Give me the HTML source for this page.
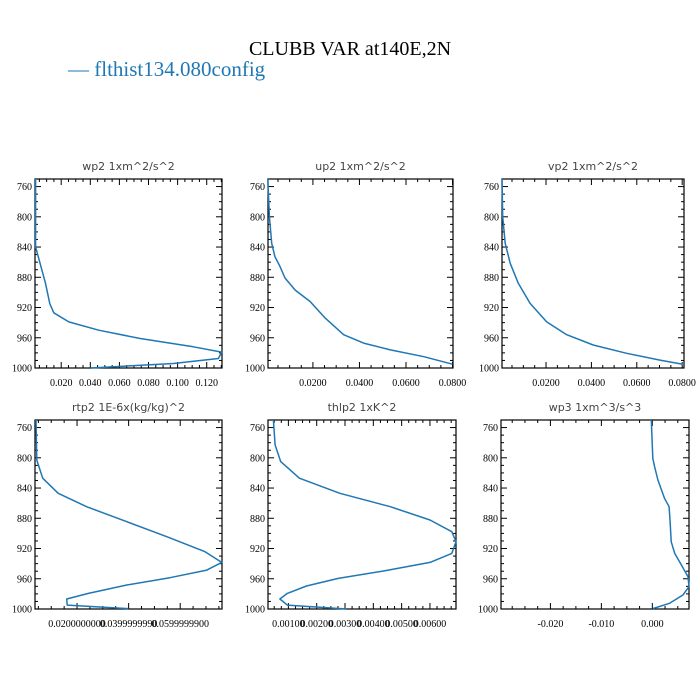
<!DOCTYPE html>
<html><head><meta charset="utf-8"><style>
html,body{margin:0;padding:0;background:#fff;}
svg{display:block;}
.tl{font-family:"Liberation Serif",serif;font-size:10px;fill:#000;}
.pt{font-family:"DejaVu Sans","Liberation Sans",sans-serif;font-size:11px;fill:#444;font-weight:normal;}
</style></head><body>
<svg id="fig" width="700" height="700" viewBox="0 0 700 700">
<rect width="700" height="700" fill="#fff"/>
<text x="350" y="55" text-anchor="middle" font-family="Liberation Serif,serif" font-size="20">CLUBB VAR at140E,2N</text>
<g>
<text x="68" y="76" font-family="Liberation Serif,serif" font-size="21" fill="#1f77b4">— flthist134.080config</text>
</g>
</svg>
<script>
// shared pressure ticks
const yTicks = [760, 800, 840, 880, 920, 960, 1000];
// wp2
const wp2P = [750, 840, 848, 888, 915, 927, 939, 950, 961, 972, 979, 987.5, 994, 1000];
const wp2V = [0.0024, 0.0024, 0.0036, 0.0092, 0.0122, 0.0149, 0.0252, 0.0458, 0.0743, 0.1108, 0.1303, 0.128, 0.0971, 0.0401];
const wp2Ticks = [0.02, 0.04, 0.06, 0.08, 0.10, 0.12];
const wp2Labels = ["0.020", "0.040", "0.060", "0.080", "0.100", "0.120"];
// up2
const up2P = [750, 800, 835, 853, 864, 881, 897, 912, 934, 956, 967, 976, 985, 995];
const up2V = [0.0006, 0.0013, 0.0023, 0.0037, 0.0056, 0.008, 0.0124, 0.0188, 0.0253, 0.0332, 0.0418, 0.0533, 0.0677, 0.08];
const up2Ticks = [0.02, 0.04, 0.06, 0.08];
const up2Labels = ["0.0200", "0.0400", "0.0600", "0.0800"];
// vp2
const vp2P = [750, 800, 835, 861.5, 888, 914.5, 939, 956, 969.6, 980.6, 989.5, 995];
const vp2V = [0.0006, 0.0009, 0.002, 0.0042, 0.0078, 0.013, 0.0203, 0.0291, 0.0408, 0.0555, 0.0702, 0.0802];
const vp2Ticks = [0.02, 0.04, 0.06, 0.08];
const vp2Labels = ["0.0200", "0.0400", "0.0600", "0.0800"];
// rtp2
const rtp2P = [750, 803, 809.5, 827, 847, 864.7, 884.5, 904.4, 924.2, 938.3, 948.5, 958.6, 968.3, 979.3, 986.8, 994.8, 999.5];
const rtp2V = [0.0041, 0.0044, 0.005, 0.0067, 0.0127, 0.0237, 0.0393, 0.0548, 0.0696, 0.0761, 0.0703, 0.056, 0.0393, 0.0244, 0.016, 0.0162, 0.0399];
const rtp2Ticks = [0.02, 0.04, 0.06];
const rtp2Labels = ["0.0200000000", "0.0399999990", "0.0599999900"];
// thlp2
const thlp2P = [750, 783, 805, 827, 847, 864.7, 882.3, 897.8, 911, 926.4, 938.3, 949.8, 959.5, 969.6, 979.3, 986.8, 994.8, 1000];
const thlp2V = [0.00047, 0.00053, 0.00073, 0.00139, 0.00282, 0.0046, 0.006, 0.00677, 0.00692, 0.00677, 0.006, 0.00436, 0.00276, 0.00164, 0.00096, 0.0007, 0.00096, 0.00305];
const thlp2Ticks = [0.001, 0.002, 0.003, 0.004, 0.005, 0.006];
const thlp2Labels = ["0.00100", "0.00200", "0.00300", "0.00400", "0.00500", "0.00600"];
// wp3
const wp3P = [750, 800.7, 811.8, 829.4, 853.6, 864.7, 884.5, 911, 926.4, 941.8, 957.3, 970.5, 981.5, 992.5, 999.5];
const wp3V = [-0.0002, 0.0001, 0.00045, 0.0011, 0.0024, 0.0033, 0.0035, 0.0037, 0.0044, 0.0057, 0.007, 0.0072, 0.006, 0.0034, 0.0001];
const wp3Ticks = [-0.02, -0.01, 0.0];
const wp3Labels = ["-0.020", "-0.010", "0.000"];

const NS = "http://www.w3.org/2000/svg";
const svg = document.getElementById('fig');
function mk(tag, attrs, parent) {
  const e = document.createElementNS(NS, tag);
  for (const k in attrs) e.setAttribute(k, attrs[k]);
  parent.appendChild(e);
  return e;
}
const panels = [
  {id:'wp2', title:'wp2   1xm^2/s^2', x0:35, x1:222, y0:179, y1:368, d:[0.002,0.1305], P:wp2P, V:wp2V, t:wp2Ticks, l:wp2Labels, minor:0.005},
  {id:'up2', title:'up2   1xm^2/s^2', x0:268, x1:453, y0:179, y1:368, d:[0.0007,0.0802], P:up2P, V:up2V, t:up2Ticks, l:up2Labels, minor:0.005},
  {id:'vp2', title:'vp2   1xm^2/s^2', x0:502, x1:684, y0:179, y1:368, d:[0.0006,0.0808], P:vp2P, V:vp2V, t:vp2Ticks, l:vp2Labels, minor:0.005},
  {id:'rtp2', title:'rtp2   1E-6x(kg/kg)^2', x0:35, x1:222, y0:420, y1:609, d:[0.0037,0.0762], P:rtp2P, V:rtp2V, t:rtp2Ticks, l:rtp2Labels, minor:0.005},
  {id:'thlp2', title:'thlp2   1xK^2', x0:268, x1:456, y0:420, y1:609, d:[0.00028,0.00692], P:thlp2P, V:thlp2V, t:thlp2Ticks, l:thlp2Labels, minor:0.00025},
  {id:'wp3', title:'wp3   1xm^3/s^3', x0:501, x1:689, y0:420, y1:609, d:[-0.0297,0.0072], P:wp3P, V:wp3V, t:wp3Ticks, l:wp3Labels, minor:0.0025}
];
panels.forEach(p => {
  const g = mk('g', {}, svg);
  
  
  const xs = v => p.x0 + (v - p.d[0]) / (p.d[1] - p.d[0]) * (p.x1 - p.x0);
  const ys = v => p.y0 + (v - 750) / 250 * (p.y1 - p.y0);
  const t = mk('text', {x:(p.x0+p.x1)/2, y:p.y0-9, 'text-anchor':'middle', class:'pt'}, g);
  t.textContent = p.title;
  
  
  // y ticks
  for (let v = 750; v <= 1000; v += 10) {
    const y = ys(v);
    const major = (v - 760) % 40 === 0 && v >= 760;
    const L = major ? 6 : 3;
    mk('line', {x1:p.x0, x2:p.x0+L, y1:y, y2:y, stroke:'#000', 'stroke-width':1}, g);
    mk('line', {x1:p.x1, x2:p.x1-L, y1:y, y2:y, stroke:'#000', 'stroke-width':1}, g);
  }
  yTicks.forEach(v => {
    const tx = mk('text', {x:p.x0-3, y:ys(v)+3.5, 'text-anchor':'end', class:'tl'}, g);
    tx.textContent = v;
    
    
  });
  // x ticks
  const start = Math.ceil(p.d[0] / p.minor);
  const end = Math.floor(p.d[1] / p.minor);
  for (let k = start; k <= end; k++) {
    const v = k * p.minor;
    const x = xs(v);
    const major = p.t.some(tv => Math.abs(tv - v) < p.minor / 10);
    const L = major ? 6 : 3;
    mk('line', {x1:x, x2:x, y1:p.y1, y2:p.y1-L, stroke:'#000', 'stroke-width':1}, g);
    mk('line', {x1:x, x2:x, y1:p.y0, y2:p.y0+L, stroke:'#000', 'stroke-width':1}, g);
  }
  p.t.forEach((v, i) => {
    const tx = mk('text', {x:xs(v), y:p.y1+18, 'text-anchor':'middle', class:'tl'}, g);
    tx.textContent = p.l[i];
    
    
  });
  const r = mk('rect', {x:p.x0, y:p.y0, width:p.x1-p.x0, height:p.y1-p.y0, fill:'none', stroke:'#000', 'stroke-width':1.2}, g);
  
  
  const pts = p.V.map((v, i) => xs(v).toFixed(1) + ',' + ys(p.P[i]).toFixed(1)).join(' ');
  const ln = mk('polyline', {points:pts, fill:'none', stroke:'#1f77b4', 'stroke-width':1.5, 'stroke-linejoin':'round'}, g);
  
  
});
</script>
</body></html>
